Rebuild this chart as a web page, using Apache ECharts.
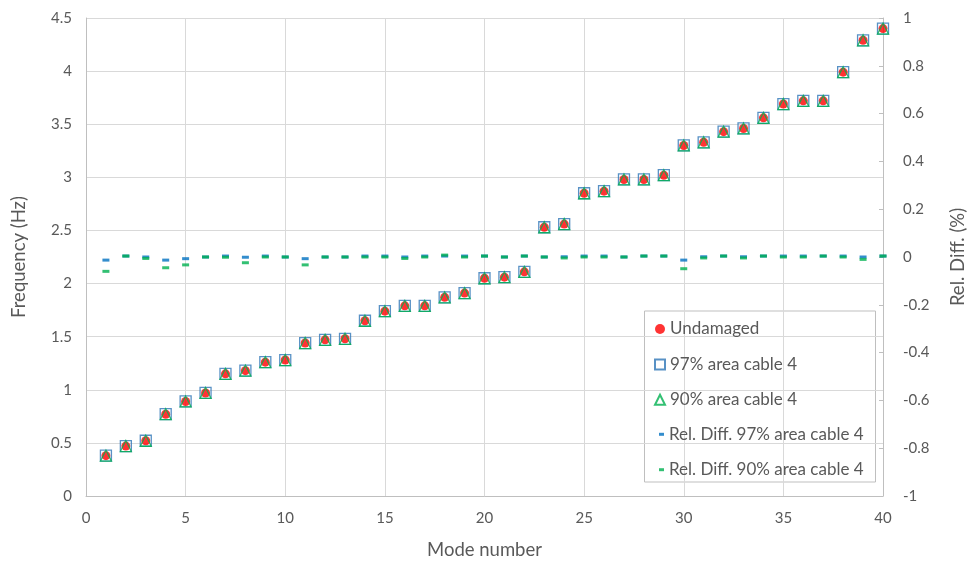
<!DOCTYPE html>
<html><head><meta charset="utf-8">
<script src="https://cdn.jsdelivr.net/npm/echarts@6/dist/echarts.min.js"></script>
<style>html,body{margin:0;padding:0;background:#fff}#c{width:977px;height:566px}</style>
</head><body><div id="c"></div>
<script>
const modes = [1,2,3,4,5,6,7,8,9,10,11,12,13,14,15,16,17,18,19,20,21,22,23,24,25,26,27,28,29,30,31,32,33,34,35,36,37,38,39,40];
const freqUndamaged = [0.38,0.47,0.52,0.77,0.89,0.97,1.15,1.18,1.26,1.28,1.44,1.47,1.48,1.65,1.74,1.79,1.79,1.87,1.91,2.05,2.06,2.11,2.53,2.56,2.85,2.87,2.98,2.98,3.02,3.30,3.33,3.43,3.46,3.56,3.69,3.72,3.72,3.99,4.29,4.40];
const freq97 = [0.38,0.47,0.52,0.77,0.89,0.97,1.15,1.18,1.26,1.28,1.44,1.47,1.48,1.65,1.74,1.79,1.79,1.87,1.91,2.05,2.06,2.11,2.53,2.56,2.85,2.87,2.98,2.98,3.02,3.30,3.33,3.43,3.46,3.56,3.69,3.72,3.72,3.99,4.29,4.40];
const freq90 = [0.38,0.47,0.52,0.77,0.89,0.97,1.15,1.18,1.26,1.28,1.44,1.47,1.48,1.65,1.74,1.79,1.79,1.87,1.91,2.05,2.06,2.11,2.53,2.56,2.85,2.87,2.98,2.98,3.02,3.30,3.33,3.43,3.46,3.56,3.69,3.72,3.72,3.99,4.29,4.40];
const rel97 = [-0.013,0.004,0.0,-0.013,-0.007,0.0,0.004,-0.001,0.004,0.0,-0.007,0.0,0.0,0.004,0.004,0.0,0.004,0.004,0.004,0.004,0.0,0.004,0.0,0.001,0.004,0.004,0.0,0.004,0.004,-0.013,0.001,0.004,0.001,0.004,0.004,0.004,0.004,0.004,0.0,0.004];
const rel90 = [-0.060,0.004,-0.006,-0.045,-0.033,0.0,-0.001,-0.024,0.0,0.0,-0.033,0.0,0.0,0.0,0.0,-0.006,0.0,0.008,0.0,0.004,0.0,0.004,0.0,-0.004,0.0,0.0,0.0,0.004,0.004,-0.049,-0.004,0.004,-0.004,0.004,0.0,0.0,0.004,0.0,-0.01,0.004];
const names = ['Undamaged','97% area cable 4','90% area cable 4','Rel. Diff. 97% area cable 4','Rel. Diff. 90% area cable 4'];

const pair = arr => modes.map((m,i)=>[m,arr[i]]);
const FONT = 'Lato';
const TXT = '#595959';
const GRID = '#d9d9d9';

const chart = echarts.init(document.getElementById('c'));
chart.setOption({
  animation:false,
  textStyle:{fontFamily:FONT},
  grid:{left:86,right:94,top:18,bottom:70},
  xAxis:{type:'value',min:0,max:40,interval:5,
    name:'Mode number',nameLocation:'middle',nameGap:45,
    nameTextStyle:{fontFamily:FONT,fontSize:18.5,color:TXT},
    axisLine:{show:true,lineStyle:{color:'#bfbfbf'}},axisTick:{show:false},
    axisLabel:{fontFamily:FONT,fontSize:15,color:TXT,margin:15},
    splitLine:{show:true,lineStyle:{color:GRID,width:1}}},
  yAxis:[
    {type:'value',min:0,max:4.5,interval:0.5,
     name:'Frequency (Hz)',nameLocation:'middle',nameGap:57,nameRotate:90,
     nameTextStyle:{fontFamily:FONT,fontSize:18.5,color:TXT},
     axisLine:{show:true,lineStyle:{color:'#bfbfbf'}},axisTick:{show:false},
     axisLabel:{fontFamily:FONT,fontSize:15,color:TXT,margin:14},
     splitLine:{show:true,lineStyle:{color:GRID,width:1}}},
    {type:'value',min:-1,max:1,interval:0.2,position:'right',
     name:'Rel. Diff. (%)',nameLocation:'middle',nameGap:66,nameRotate:90,
     nameTextStyle:{fontFamily:FONT,fontSize:18.5,color:TXT},
     axisLine:{show:true,lineStyle:{color:'#bfbfbf'}},
     axisTick:{show:true,inside:true,length:4,lineStyle:{color:'#bfbfbf'}},
     axisLabel:{fontFamily:FONT,fontSize:15,color:TXT,margin:20,
       formatter:v=>String(Math.round(v*10)/10)},
     splitLine:{show:false}}
  ],
  legend:[
    {orient:'vertical',left:654,top:319,padding:0,itemGap:15.4,itemWidth:10,itemHeight:10,itemTextGap:6,
     data:names.slice(0,3),
     textStyle:{fontFamily:FONT,fontSize:17,color:TXT,lineHeight:20}},
    {orient:'vertical',left:659,top:424.3,padding:0,itemGap:15.4,itemWidth:5,itemHeight:3,itemTextGap:6,
     data:names.slice(3),
     textStyle:{fontFamily:FONT,fontSize:17,color:TXT,lineHeight:20}}
  ],
  graphic:[{type:'rect',left:644,top:310.5,z:-1,
    shape:{width:231,height:171},
    style:{fill:'#fff',stroke:'#bfbfbf',lineWidth:1}}],
  series:[
    {name:names[3],type:'scatter',yAxisIndex:1,data:pair(rel97),
     symbol:'rect',symbolSize:[7,3],itemStyle:{color:'#0070C0'},z:2},
    {name:names[4],type:'scatter',yAxisIndex:1,data:pair(rel90),
     symbol:'rect',symbolSize:[7,3],itemStyle:{color:'#00B050'},z:3},
    {name:names[0],type:'scatter',data:pair(freqUndamaged),
     symbol:'circle',symbolSize:9,itemStyle:{color:'#FF0000'},z:4},
    {name:names[1],type:'scatter',data:pair(freq97),
     symbol:'rect',symbolSize:11,itemStyle:{color:'rgba(0,0,0,0)',borderColor:'#2E75B6',borderWidth:1.3},z:5},
    {name:names[2],type:'scatter',data:pair(freq90),
     symbol:'triangle',symbolSize:11,itemStyle:{color:'rgba(0,0,0,0)',borderColor:'#00B050',borderWidth:1.3},z:6}
  ]
});
</script></body></html>
